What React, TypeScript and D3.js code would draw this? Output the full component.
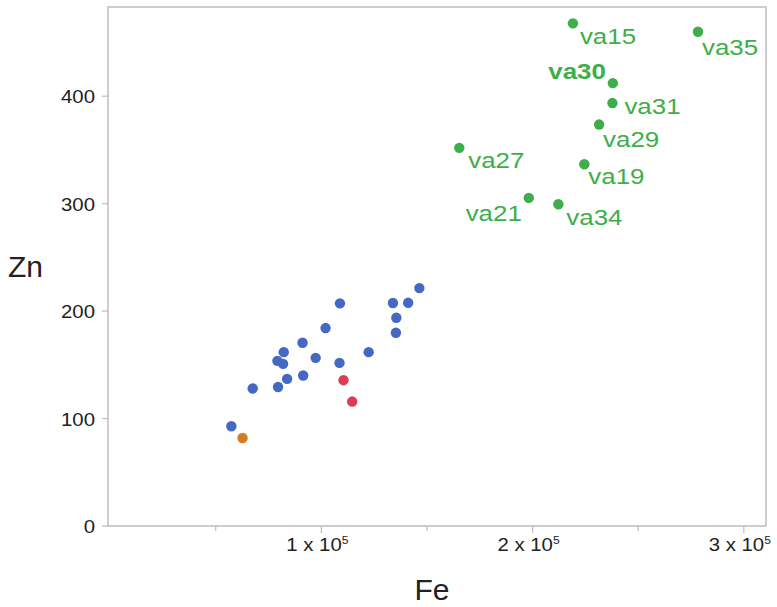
import React, { useEffect, useRef } from 'react';
import * as d3 from 'd3';

// Fe / Zn concentrations
const blueFe = [57400, 67500, 79500, 79200, 81900, 82200, 83800, 91100, 91400, 97300, 102000, 108800, 108600, 122400, 133900, 141100, 135500, 135300, 146400];
const blueZn = [92.8, 128, 129.4, 153.7, 150.9, 161.8, 136.9, 170.5, 140.1, 156.5, 184.2, 207.2, 151.8, 161.8, 207.5, 207.7, 193.8, 179.8, 221.4];
const redFe = [110500, 114600];
const redZn = [135.7, 115.8];
const orangeFe = [62700];
const orangeZn = [81.9];
const greenNames = ['va15', 'va35', 'va30', 'va31', 'va29', 'va27', 'va19', 'va21', 'va34'];
const greenFe = [219100, 278300, 238000, 237800, 231500, 165300, 224500, 198200, 212200];
const greenZn = [467.8, 460, 412.2, 393.6, 373.6, 351.9, 336.7, 305.3, 299.4];

const xMajorTicks = [100000, 200000, 300000];
const xMinorTicks = [50000, 150000, 250000];
const yTicks = [0, 100, 200, 300, 400];

// label placement next to each point (pixels)
const labelLayout: Record<string, { dx: number; dy: number; anchor: string; bold?: boolean }> = {
  va15: { dx: 7, dy: 21, anchor: 'start' },
  va35: { dx: 4, dy: 23, anchor: 'start' },
  va30: { dx: -7, dy: -4, anchor: 'end', bold: true },
  va31: { dx: 12, dy: 11, anchor: 'start' },
  va29: { dx: 4, dy: 22, anchor: 'start' },
  va27: { dx: 9, dy: 20, anchor: 'start' },
  va19: { dx: 4, dy: 20, anchor: 'start' },
  va21: { dx: -7, dy: 23, anchor: 'end' },
  va34: { dx: 8, dy: 21, anchor: 'start' },
};

const BLUE = '#4569c2';
const RED = '#d83f52';
const ORANGE = '#d67b22';
const GREEN = '#3dae4a';
const FONT = '"Liberation Sans", Arial, sans-serif';

export default function App() {
  const svgRef = useRef<SVGSVGElement>(null);
  const width = 777;
  const height = 607;

  useEffect(() => {
    if (!svgRef.current) return;
    const svg = d3.select(svgRef.current);
    svg.selectAll('*').remove();

    const margin = { top: 7, right: 11, bottom: 81, left: 108 };
    const x = d3.scaleLinear().domain([-1000, 310500]).range([margin.left, width - margin.right]);
    const y = d3.scaleLinear().domain([0, 483]).range([height - margin.bottom, margin.top]);

    const bottom = height - margin.bottom;

    // frame
    svg.append('rect')
      .attr('x', margin.left)
      .attr('y', margin.top)
      .attr('width', width - margin.left - margin.right)
      .attr('height', bottom - margin.top)
      .attr('fill', 'none')
      .attr('stroke', '#bdbdbd')
      .attr('stroke-width', 1.5);

    // x ticks
    svg.selectAll('.xmaj')
      .data(xMajorTicks)
      .enter()
      .append('line')
      .attr('x1', d => x(d)).attr('x2', d => x(d))
      .attr('y1', bottom).attr('y2', bottom + 7)
      .attr('stroke', '#bdbdbd').attr('stroke-width', 1.2);

    svg.selectAll('.xmin')
      .data(xMinorTicks)
      .enter()
      .append('line')
      .attr('x1', d => x(d)).attr('x2', d => x(d))
      .attr('y1', bottom).attr('y2', bottom + 5)
      .attr('stroke', '#bdbdbd').attr('stroke-width', 1.2);

    const xLab = svg.selectAll('.xlab')
      .data(xMajorTicks)
      .enter()
      .append('text')
      .attr('transform', d => `translate(${x(d) - 4},${bottom + 25}) scale(1.1,1)`)
      .attr('text-anchor', 'middle')
      .style('font-family', FONT)
      .style('font-size', '18.5px')
      .style('fill', '#222');
    xLab.append('tspan').text(d => `${d / 100000} x 10`);
    xLab.append('tspan').attr('dy', -7).style('font-size', '11px').text('5');

    // y ticks
    svg.selectAll('.ytick')
      .data(yTicks)
      .enter()
      .append('line')
      .attr('x1', margin.left - 6).attr('x2', margin.left)
      .attr('y1', d => y(d)).attr('y2', d => y(d))
      .attr('stroke', '#bdbdbd').attr('stroke-width', 1.2);

    svg.selectAll('.ylab')
      .data(yTicks)
      .enter()
      .append('text')
      .attr('transform', d => `translate(${margin.left - 13},${y(d) + 7}) scale(1.1,1)`)
      .attr('text-anchor', 'end')
      .style('font-family', FONT)
      .style('font-size', '18.5px')
      .style('fill', '#222')
      .text(d => String(d));

    // axis titles
    svg.append('text')
      .attr('x', 432).attr('y', 600)
      .attr('text-anchor', 'middle')
      .style('font-family', FONT).style('font-size', '30px').style('fill', '#222')
      .text('Fe');
    svg.append('text')
      .attr('x', 8).attr('y', 277)
      .style('font-family', FONT).style('font-size', '30px').style('fill', '#222')
      .text('Zn');

    // points
    const drawGroup = (fe: number[], zn: number[], color: string) => {
      svg.append('g')
        .selectAll('circle')
        .data(fe.map((f, i) => ({ f, z: zn[i] })))
        .enter()
        .append('circle')
        .attr('cx', d => x(d.f))
        .attr('cy', d => y(d.z))
        .attr('r', 5.2)
        .attr('fill', color);
    };
    drawGroup(blueFe, blueZn, BLUE);
    drawGroup(redFe, redZn, RED);
    drawGroup(orangeFe, orangeZn, ORANGE);
    drawGroup(greenFe, greenZn, GREEN);

    // green labels
    svg.append('g')
      .selectAll('text')
      .data(greenNames.map((n, i) => ({ n, f: greenFe[i], z: greenZn[i] })))
      .enter()
      .append('text')
      .attr('transform', d => `translate(${x(d.f) + labelLayout[d.n].dx},${y(d.z) + labelLayout[d.n].dy}) scale(1.15,1)`)
      .attr('text-anchor', d => labelLayout[d.n].anchor)
      .style('font-family', FONT)
      .style('font-size', '22.5px')
      .style('font-weight', d => (labelLayout[d.n].bold ? 'bold' : 'normal'))
      .style('fill', GREEN)
      .text(d => d.n);
  }, []);

  return (
    <div style={{ position: 'absolute', left: 0, top: 0 }}>
      <svg ref={svgRef} width={width} height={height} style={{ display: 'block', background: '#fff' }} />
    </div>
  );
}
